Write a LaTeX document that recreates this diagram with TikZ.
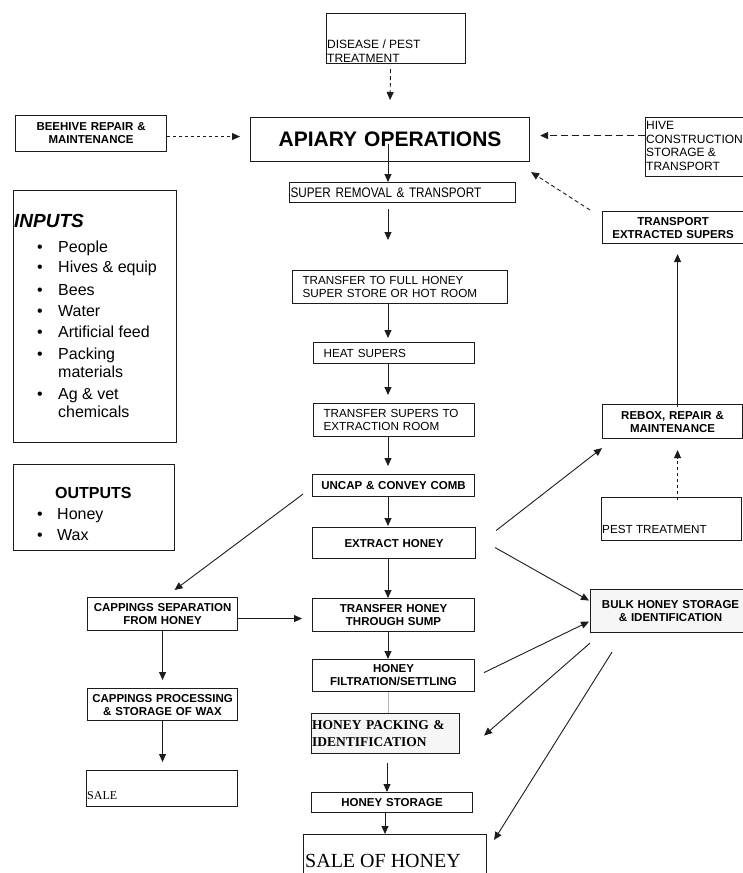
\documentclass[tikz,border=0pt]{standalone}
\usepackage{fontspec}
\setmainfont{Liberation Serif}
\setsansfont{Liberation Sans}
\newfontfamily\narrowsans[FakeStretch=0.85]{Liberation Sans}
\usetikzlibrary{calc,arrows.meta,positioning}
\definecolor{scanInk}{RGB}{28,28,28}
\definecolor{faintGray}{RGB}{180,180,180}
\definecolor{paperGray}{RGB}{246,246,246}
\newcommand{\bfsz}{\sffamily\bfseries\fontsize{11.5}{13}\selectfont}
\newcommand{\rgsz}{\sffamily\fontsize{11.7}{13.5}\selectfont}
\newcommand{\listsz}{\sffamily\fontsize{16}{18}\selectfont}
\tikzset{
  box/.style={draw=scanInk,line width=1.1pt,rectangle,anchor=north west,inner xsep=1pt,inner ysep=0pt,align=center},
  flow/.style={draw=scanInk,line width=.9pt,-{Triangle[length=8pt,width=7pt]}},
  dashflow/.style={flow,dash pattern=on 4pt off 3pt},
  dotflow/.style={flow,dash pattern=on 3pt off 3pt},
  longdashflow/.style={flow,dash pattern=on 7pt off 4pt},
  txt/.style={inner sep=0pt,align=left}
}

\begin{document}
\begin{tikzpicture}[x=1pt,y=-1pt]
\useasboundingbox (0,0) rectangle (743,873);
\clip (0,0) rectangle (743,873);
\coordinate (spine) at (388,0);

% top row
\node[box,minimum width=139pt,minimum height=50pt] (dis) at (326,13) {};
\node[txt,anchor=south west,inner sep=1pt,font=\sffamily\fontsize{12}{14}\selectfont] (distxt) at (dis.south west) {DISEASE / PEST\\TREATMENT};
\node[box,text width=149pt,minimum height=36pt,font=\bfsz] (bee) at (15,115) {BEEHIVE REPAIR \&\\MAINTENANCE};
\node[box,text width=277pt,minimum height=44pt,font=\sffamily\bfseries\fontsize{21}{24}\selectfont] (api) at (250,117) {APIARY OPERATIONS};
\node[box,minimum width=110pt,minimum height=59pt] (hive) at (645,117) {};
\node[txt,anchor=north west,font=\sffamily\fontsize{12}{13.7}\selectfont] (hivetxt) at ($(hive.north west)+(1,4)$) {HIVE\\CONSTRUCTION\\STORAGE \&\\TRANSPORT};

% main column
\node[box,text width=224pt,minimum height=20pt,align=left,font=\narrowsans\fontsize{13.8}{15}\selectfont] (sup) at (289,182) {SUPER REMOVAL \& TRANSPORT};
\node[box,inner xsep=10pt,text width=195pt,minimum height=33pt,align=left,font=\rgsz] (full) at (292,270) {TRANSFER TO FULL HONEY\\SUPER STORE OR HOT ROOM};
\node[box,inner xsep=10pt,text width=141pt,minimum height=21pt,align=left,font=\rgsz] (heat) at (313,342) {HEAT SUPERS};
\node[box,inner xsep=10pt,text width=141pt,minimum height=33pt,align=left,font=\rgsz] (tsup) at (313,403) {TRANSFER SUPERS TO\\EXTRACTION ROOM};
\node[box,text width=160pt,minimum height=22pt,font=\bfsz] (uncap) at (312,474) {UNCAP \& CONVEY COMB};
\node[box,text width=161pt,minimum height=31pt,font=\bfsz] (ext) at (312,527) {EXTRACT HONEY};
\node[box,text width=160pt,minimum height=33pt,font=\bfsz] (sump) at (312,598) {TRANSFER HONEY\\THROUGH SUMP};
\node[box,text width=160pt,minimum height=32pt,font=\bfsz] (filt) at (312,659) {HONEY\\FILTRATION/SETTLING};
\node[box,inner xsep=.5pt,text width=147pt,minimum height=40pt,align=left,fill=paperGray,font=\rmfamily\bfseries\fontsize{13.5}{17}\selectfont] (pack) at (311,713) {HONEY PACKING \&\\IDENTIFICATION};
\node[box,text width=159pt,minimum height=20pt,font=\bfsz] (hsto) at (311,792) {HONEY STORAGE};
\node[box,minimum width=183pt,minimum height=60pt] (saleh) at (303,834) {};
\node[txt,anchor=base west,font=\rmfamily\fontsize{20}{22}\selectfont] (salehtxt) at ($(saleh.north west)+(2,33)$) {SALE OF HONEY};

% wax column
\node[box,text width=148pt,minimum height=33pt,font=\bfsz] (capsep) at (87,597) {CAPPINGS SEPARATION\\FROM HONEY};
\node[box,text width=148pt,minimum height=32pt,font=\bfsz] (capproc) at (87,688) {CAPPINGS PROCESSING\\\& STORAGE OF WAX};
\node[box,minimum width=151pt,minimum height=36pt] (salew) at (86,770) {};
\node[txt,anchor=base west,font=\rmfamily\fontsize{12}{14}\selectfont] (salewtxt) at ($(salew.south west)+(1,-8)$) {SALE};

% right column
\node[box,text width=139pt,minimum height=32pt,font=\bfsz] (tes) at (602,211) {TRANSPORT\\EXTRACTED SUPERS};
\node[box,text width=138pt,minimum height=34pt,font=\bfsz] (rebox) at (602,404) {REBOX, REPAIR \&\\MAINTENANCE};
\node[box,minimum width=140pt,minimum height=43pt] (pest) at (601,497) {};
\node[txt,anchor=base west,font=\rgsz] (pesttxt) at ($(pest.south west)+(1,-8)$) {PEST TREATMENT};
\node[box,text width=158pt,minimum height=43pt,fill=paperGray,font=\bfsz] (bulk) at (590,589) {BULK HONEY STORAGE\\\& IDENTIFICATION};

% inputs / outputs
\node[box,minimum width=163pt,minimum height=252pt] (inputs) at (13,190) {};
\node[txt,anchor=base west,font=\sffamily\bfseries\itshape\fontsize{19}{21}\selectfont] (intitle) at ($(inputs.north west)+(1,37)$) {INPUTS};
\foreach \dy/\txt/\dot [count=\i] in {62/People/1,82/Hives \& equip/1,105/Bees/1,126/Water/1,147/Artificial feed/1,169/Packing/1,187/materials/0,209/Ag \& vet/1,227/chemicals/0}{
  \node[txt,anchor=base west,font=\listsz] (in\i) at ($(inputs.north west)+(45,\dy)$) {\txt};
  \ifnum\dot=1 \node[txt,anchor=base west,font=\listsz] (inb\i) at ($(in\i.base west)+(-21,0)$) {\textbullet};\fi
}
\node[box,minimum width=161pt,minimum height=86pt] (outputs) at (13,464) {};
\node[txt,anchor=base west,font=\sffamily\bfseries\fontsize{16}{18}\selectfont] (outtitle) at ($(outputs.north west)+(42,34)$) {OUTPUTS};
\foreach \dy/\txt [count=\i] in {55/Honey,76/Wax}{
  \node[txt,anchor=base west,font=\listsz] (out\i) at ($(outputs.north west)+(44,\dy)$) {\txt};
  \node[txt,anchor=base west,font=\listsz] (outb\i) at ($(out\i.base west)+(-20,0)$) {\textbullet};
}

% connectors into apiary
\draw[dashflow] ($(dis.south)+(-5.5,5)$) -- ($(api.north)+(0,-17)$);
\draw[dotflow] ($(bee.east)+(0,3)$) -- ($(api.west)+(-10,-3)$);
\draw[longdashflow] ($(hive.west)+(0,-11.5)$) -- ($(api.east)+(10,-4)$);
\draw[dashflow] ($(tes.north west)+(-12,-1)$) -- ($(api.south east)+(1,10)$);

% main flow
\draw[flow] ($(spine |- api.center)+(0,4)$) -- (spine |- sup.north);
\draw[flow] ($(spine |- sup.south)+(0,6)$) -- ($(spine |- full.north)+(0,-30)$);
\draw[flow] (spine |- full.south) -- ($(spine |- heat.north)+(0,-4)$);
\draw[flow] (spine |- heat.south) -- ($(spine |- tsup.north)+(0,-8)$);
\draw[flow] (spine |- tsup.south) -- ($(spine |- uncap.north)+(0,-8)$);
\draw[flow] (spine |- uncap.south) -- ($(spine |- ext.north)+(0,-1)$);
\draw[flow] (spine |- ext.south) -- (spine |- sump.north);
\draw[flow] (spine |- sump.south) -- (spine |- filt.north);
\draw[faintGray,line width=.6pt] (spine |- filt.south) -- (spine |- pack.north);
\draw[flow] ($(spine |- pack.south)+(-1,9)$) -- ($(spine |- hsto.north)+(-1,0)$);
\draw[flow] ($(spine |- hsto.south)+(-3,0)$) -- ($(spine |- saleh.north)+(-3,0)$);

% cappings
\draw[flow] ($(uncap.south west)+(-9,-3)$) -- ($(capsep.north)+(12,-7)$);
\draw[flow] ($(capsep.east)+(0,4.5)$) -- ($(capsep.east -| sump.west)+(-10,4.5)$);
\draw[flow] (capsep.south) -- ($(capsep.south |- capproc.north)+(0,-8)$);
\draw[flow] (capproc.south) -- ($(capproc.south |- salew.north)+(0,-8)$);

% honey and supers
\draw[flow] ($(ext.east)+(20,-12.5)$) -- ($(rebox.south west)+(0,9)$);
\draw[flow] ($(ext.east)+(19,4.5)$) -- ($(bulk.west)+(-1,-10.5)$);
\draw[flow] ($(filt.east)+(9,-3)$) -- ($(bulk.west)+(-1,10.5)$);
\draw[flow] ($(bulk.south west)+(0,10)$) -- ($(pack.east)+(24,2)$);
\draw[flow] ($(bulk.south west)+(22,19)$) -- ($(saleh.north east)+(7,6)$);
\draw[flow] ($(rebox.north)+(5,3)$) -- ($(tes.south)+(4.5,10)$);
\draw[dotflow] ($(pest.north)+(6,3)$) -- ($(rebox.south)+(5,11)$);
\end{tikzpicture}
\end{document}
